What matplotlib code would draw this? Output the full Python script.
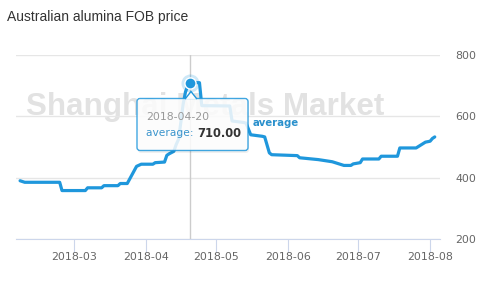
import numpy as np
import pandas as pd
import matplotlib
matplotlib.use('Agg')
import matplotlib.pyplot as plt
import matplotlib.dates as mdates
from matplotlib.patches import FancyBboxPatch, Polygon

# daily FOB price (USD/t)
dates = ['2018-02-06', '2018-02-08', '2018-02-23', '2018-02-24', '2018-03-06', '2018-03-07',
         '2018-03-13', '2018-03-14', '2018-03-20', '2018-03-21', '2018-03-24', '2018-03-28',
         '2018-03-30', '2018-04-04', '2018-04-05', '2018-04-09', '2018-04-10', '2018-04-11',
         '2018-04-12', '2018-04-13', '2018-04-14', '2018-04-15', '2018-04-16', '2018-04-17',
         '2018-04-18', '2018-04-19', '2018-04-20', '2018-04-24', '2018-04-25', '2018-05-07',
         '2018-05-08', '2018-05-13', '2018-05-14', '2018-05-16', '2018-05-21', '2018-05-22',
         '2018-05-24', '2018-05-25', '2018-06-05', '2018-06-06', '2018-06-14', '2018-06-20',
         '2018-06-25', '2018-06-28', '2018-06-29', '2018-07-02', '2018-07-03', '2018-07-10',
         '2018-07-11', '2018-07-18', '2018-07-19', '2018-07-26', '2018-07-30', '2018-08-01',
         '2018-08-02', '2018-08-03']
prices = [390, 385, 385, 358, 358, 367,
          367, 374, 374, 381, 381, 437,
          444, 444, 449, 451, 473, 478,
          482, 486, 508, 525, 580, 640,
          680, 700, 710, 710, 635, 634,
          585, 580, 578, 540, 535, 533,
          481, 475, 472, 465, 459, 452,
          440, 440, 445, 449, 461, 461,
          470, 470, 497, 497, 516, 519,
          528, 533]

hover_date = '2018-04-20'
hover_value = 710.00

x = pd.to_datetime(dates)
blue = '#1f97dc'

fig = plt.figure(figsize=(5, 3.01), dpi=100)
fig.patch.set_facecolor('white')
ax = fig.add_axes([0.032, 0.206, 0.848, 0.611])

ax.text(0.446, 0.717, 'Shanghai Metals Market', transform=ax.transAxes,
        ha='center', va='center', fontsize=22.6, fontweight='bold',
        family='Liberation Sans', color='#e2e2e2', zorder=0)

ax.plot(x, prices, color=blue, lw=2.3, solid_joinstyle='round',
        solid_capstyle='round', zorder=3)

hx = pd.Timestamp(hover_date)
ax.axvline(hx, color='#cccccc', lw=1, zorder=1)
ax.plot([hx], [hover_value], 'o', ms=13, color=blue, alpha=0.22, mec='none', zorder=4)
ax.plot([hx], [hover_value], 'o', ms=8, color=blue, mec='white', mew=1, zorder=5)

ax.text(pd.Timestamp('2018-05-17'), 578, 'average', color='#2a90cc', fontsize=7.3,
        fontweight='bold', va='center', ha='left', zorder=4)

ax.set_ylim(200, 800)
ax.set_yticks([200, 400, 600, 800])
ax.set_xlim(pd.Timestamp('2018-02-04 06:00'), pd.Timestamp('2018-08-05 06:00'))
ax.xaxis.set_major_locator(mdates.MonthLocator())
ax.xaxis.set_major_formatter(mdates.DateFormatter('%Y-%m'))

ax.yaxis.tick_right()
ax.grid(axis='y', color='#e6e6e6', lw=1)
ax.set_axisbelow(True)
for s in ['top', 'left', 'right']:
    ax.spines[s].set_visible(False)
ax.spines['bottom'].set_color('#ccd6eb')
ax.tick_params(axis='x', length=9, color='#ccd6eb', labelsize=7.9, labelcolor='#666666', pad=0.5)
ax.tick_params(axis='y', length=0, labelsize=7.9, labelcolor='#666666', pad=11)

fig.text(0.014, 0.945, 'Australian alumina FOB price', fontsize=10, family='Liberation Sans',
         color='#333333', va='center', ha='left')

# tooltip overlay in pixel space
ov = fig.add_axes([0, 0, 1, 1])
ov.set_xlim(0, 500)
ov.set_ylim(301, 0)
ov.axis('off')
ov.patch.set_visible(False)
ov.add_patch(FancyBboxPatch((138, 100), 111, 53, boxstyle='round,pad=0,rounding_size=3',
                            fc='black', ec='none', alpha=0.06))
ov.add_patch(FancyBboxPatch((137, 98.5), 111, 52, boxstyle='round,pad=0,rounding_size=3',
                            fc='white', ec=blue, lw=1, alpha=0.85))
ov.add_patch(Polygon([(185.5, 99.2), (191, 91.5), (196.5, 99.2)], closed=True,
                     fc='white', ec='none', alpha=0.95))
ov.plot([185.5, 191, 196.5], [98.5, 91.5, 98.5], color=blue, lw=1)
ov.text(146, 116.5, hover_date, fontsize=7.8, color='#999999', va='center', ha='left')
t = ov.text(146, 133.5, 'average: ', fontsize=7.7, color='#3a94cc', va='center', ha='left')
ov.annotate(f'{hover_value:.2f}', xycoords=t, xy=(1, 0.5), va='center', ha='left',
            fontsize=8.3, fontweight='bold', color='#333333')

fig.savefig('out.png', dpi=100)
